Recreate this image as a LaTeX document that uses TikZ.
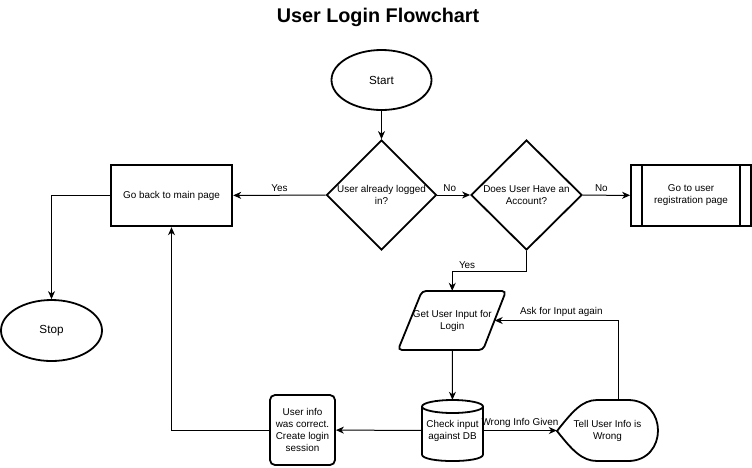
\documentclass[tikz,border=0pt]{standalone}
\usepackage{fontspec}
\setmainfont{Liberation Sans}
\usetikzlibrary{shapes.geometric,arrows.meta}
\begin{document}
\begin{tikzpicture}[x=1pt,y=-1pt,
  shapeline/.style={line width=1.8pt},
  txt/.style={font=\fontsize{9.9}{12}\selectfont, align=center},
  bigtxt/.style={font=\fontsize{11.7}{14}\selectfont, align=center},
  edge/.style={line width=1pt, -{Stealth[length=8pt,width=7pt,inset=2.5pt]}},
  lbl/.style={font=\fontsize{9.9}{12}\selectfont, inner sep=3pt},
  plain/.style={inner sep=0pt, txt}
]
\useasboundingbox (0,0) rectangle (752,467);

\node[font=\bfseries\fontsize{19.8}{22}\selectfont] (title) at (378,17) {User Login Flowchart};

\node[draw, ellipse, shapeline, minimum width=100pt, minimum height=60pt, bigtxt] (start) at (381.5,80) {Start};

\node[draw, diamond, shapeline, minimum width=110pt, minimum height=110pt, inner sep=0pt,
      label={[txt]center:{User already logged\\in?}}] (logged) at (381.5,195) {};

\node[draw, diamond, shapeline, minimum width=111pt, minimum height=110pt, inner sep=0pt,
      label={[txt]center:{Does User Have an\\Account?}}] (acc) at (526.5,195) {};

\node[draw, shapeline, minimum width=120pt, minimum height=61pt, txt] (reg) at (691,195.5) {Go to user\\registration page};
\draw[shapeline] ([xshift=12pt]reg.north west) -- ([xshift=12pt]reg.south west);
\draw[shapeline] ([xshift=-12pt]reg.north east) -- ([xshift=-12pt]reg.south east);

\node[draw, line width=2.4pt, minimum width=121pt, minimum height=61pt, txt] (main) at (171.5,195.5) {Go back to main page};

\node[draw, ellipse, shapeline, minimum width=101pt, minimum height=61pt, bigtxt] (stop) at (51.5,330.5) {Stop};

% parallelogram
\node[plain, minimum width=84.5pt, minimum height=59pt] (input) at (452.25,320.5) {Get User Input for\\Login};
\draw[shapeline, rounded corners=4pt] (422,291) -- (506,291) -- (483,350) -- (398,350) -- cycle;

% cylinder
\node[plain, minimum width=61pt, minimum height=61pt] (db) at (452.5,430.5) {Check input\\against DB};
\draw[shapeline] (422,406.5) -- (422,454.5) .. controls (422,463.2) and (483,463.2) .. (483,454.5) -- (483,406.5);
\draw[shapeline] (452.5,406.5) ellipse [x radius=30.5pt, y radius=6.5pt];

% display
\node[plain, minimum width=101pt, minimum height=61pt] (disp) at (607.5,430.5) {Tell User Info is\\Wrong};
\draw[shapeline] (557,431) .. controls (572,412) and (582,400) .. (597,400) -- (628,400)
  .. controls (668,400) and (668,461) .. (628,461) -- (597,461)
  .. controls (582,461) and (572,450) .. (557,431) -- cycle;

\node[draw, shapeline, rounded corners=5pt, minimum width=65pt, minimum height=70pt, inner sep=0pt, txt] (ok) at (302.5,430) {User info\\was correct.\\Create login\\session};

% connectors
\draw[edge] (start) -- (logged);
\draw[edge] (logged) -- node[lbl, above]{Yes} (main);
\draw[edge] (logged) -- node[lbl, above, xshift=-4pt]{No} (acc);
\draw[edge] (acc) -- node[lbl, above, xshift=-5pt]{No} (reg);
\draw[edge] (main.west) -| (stop.north);
\draw[edge] (acc.south) -- ++(0,21) -| node[lbl, pos=0.4, above]{Yes} (input.north);
\draw[edge] (input) -- (db);
\draw[edge] (db) -- node[lbl, above, inner sep=2pt]{Wrong Info Given} (disp);
\draw[edge] ([xshift=10.5pt]disp.north) |- node[lbl, pos=0.73, above]{Ask for Input again} (input.east);
\draw[edge] (db) -- (ok);
\draw[edge] (ok.west) -| (main.south);
\end{tikzpicture}
\end{document}
